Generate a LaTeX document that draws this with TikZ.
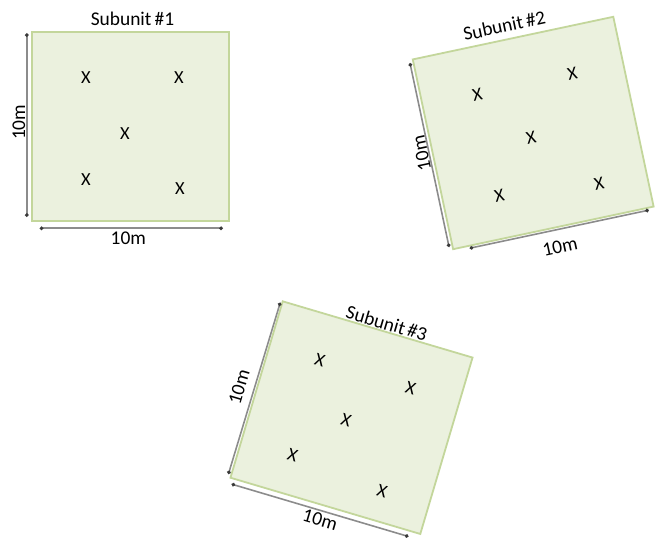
\documentclass[tikz,border=0pt]{standalone}
\usepackage{xcolor}
\usepackage{fontspec}
\setmainfont{Carlito}
\usetikzlibrary{arrows.meta,positioning}

\definecolor{plotfill}{HTML}{EBF1DE}
\definecolor{plotline}{HTML}{C3D69B}
\definecolor{dimgray}{HTML}{8C8C8C}
\definecolor{tipgray}{HTML}{3A3A3A}

\tikzset{
  plot/.style={draw=plotline,fill=plotfill,line width=1.8bp},
  dimline/.style={draw=dimgray,line width=1.6bp,
    {Circle[length=3.5bp,color=tipgray]}-{Circle[length=3.5bp,color=tipgray]}},
  lbl/.style={font=\fontsize{19.5}{23}\selectfont,inner sep=0pt},
  xmark/.style={font=\fontsize{18.5}{22}\selectfont,inner sep=0pt}
}

\begin{document}
\begin{tikzpicture}[x=1bp,y=1bp]
\useasboundingbox (0,0) rectangle (658,540);

% Subunit 1
\begin{scope}[shift={(130.8,413.7)},transform shape]
\draw[plot] (-98.5,-94.6) rectangle (98.5,94.6);
\coordinate (s1l1) at (-104,93);
\coordinate (s1l2) at (-104,-90.5);
\coordinate (s1b1) at (-91,-102);
\coordinate (s1b2) at (92,-102);
\draw[dimline] (s1l1) -- (s1l2);
\draw[dimline] (s1b1) -- (s1b2);
\node[lbl,rotate=90] (s1h) at (-112,4) {10m};
\node[lbl] (s1w) at (-2.5,-112) {10m};
\node[lbl] (s1t) at (1.7,107) {Subunit\,\#1};
\node[xmark] (s1x1) at (-44.8,48.3) {X};
\node[xmark] (s1x2) at (48.2,48.3) {X};
\node[xmark] (s1x3) at (-5.8,-7.7) {X};
\node[xmark] (s1x4) at (-44.8,-53.7) {X};
\node[xmark] (s1x5) at (49.2,-62.7) {X};
\end{scope}

% Subunit 2
\begin{scope}[shift={(533.2,407)},rotate=12,transform shape]
\draw[plot] (-102.5,-97) rectangle (102.5,97);
\coordinate (s2l1) at (-106,94);
\coordinate (s2l2) at (-106,-94);
\coordinate (s2b1) at (-86,-99.5);
\coordinate (s2b2) at (97,-99.5);
\draw[dimline] (s2l1) -- (s2l2);
\draw[dimline] (s2b1) -- (s2b2);
\node[lbl,rotate=90] (s2h) at (-113.3,3.3) {10m};
\node[lbl] (s2w) at (2.6,-116.8) {10m};
\node[lbl] (s2t) at (-6,111) {Subunit\,\#2};
\node[xmark] (s2x1) at (-46.8,48.8) {X};
\node[xmark] (s2x2) at (50.5,49.6) {X};
\node[xmark] (s2x3) at (-3.1,-4.1) {X};
\node[xmark] (s2x4) at (-46.3,-54.6) {X};
\node[xmark] (s2x5) at (53.9,-62.9) {X};
\end{scope}

% Subunit 3
\begin{scope}[shift={(351.5,122.35)},rotate=-16.5,transform shape]
\draw[plot] (-99,-92) rectangle (99,92);
\coordinate (s3l1) at (-101,90);
\coordinate (s3l2) at (-102,-89);
\coordinate (s3b1) at (-96,-97.8);
\coordinate (s3b2) at (88.3,-97.8);
\draw[dimline] (s3l1) -- (s3l2);
\draw[dimline] (s3b1) -- (s3b2);
\node[lbl,rotate=90] (s3h) at (-116.5,-2.4) {10m};
\node[lbl] (s3w) at (-1.1,-107) {10m};
\node[lbl] (s3t) at (7,100.5) {Subunit\,\#3};
\node[xmark] (s3x1) at (-46.4,45.7) {X};
\node[xmark] (s3x2) at (48.4,45) {X};
\node[xmark] (s3x3) at (-4.6,-3.8) {X};
\node[xmark] (s3x4) at (-45.8,-52.5) {X};
\node[xmark] (s3x5) at (50.3,-61.6) {X};
\end{scope}
\end{tikzpicture}
\end{document}
